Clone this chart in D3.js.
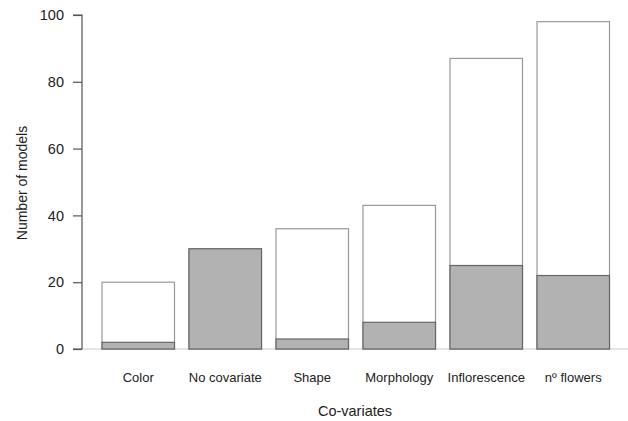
<!DOCTYPE html>
<html>
<head>
<meta charset="utf-8">
<script src="https://cdn.jsdelivr.net/npm/d3@7"></script>
<style>
  html, body { margin: 0; padding: 0; background: #fff; }
  svg { display: block; font-family: "Liberation Sans", Arial, sans-serif; }
</style>
</head>
<body>
<svg id="chart" width="628" height="421"></svg>
<script>
// Number of models per co-variate: total models and the subset shown in grey
const categories = ["Color", "No covariate", "Shape", "Morphology", "Inflorescence", "nº flowers"];
const totalModels = [20, 30, 36, 43, 87, 98];
const greyModels = [2, 30, 3, 8, 25, 22];
const yTicks = [0, 20, 40, 60, 80, 100];

const svg = d3.select("#chart");

const x = d3.scaleBand()
  .domain(categories)
  .range([94.75, 616.75])
  .paddingInner(1 / 6)
  .paddingOuter(1 / 12);

const y = d3.scaleLinear().domain([0, 100]).range([349, 15]);

const rows = categories.map((c, i) => ({ cat: c, total: totalModels[i], grey: greyModels[i] }));

// baseline
svg.append("line")
  .attr("x1", 82).attr("x2", 628)
  .attr("y1", y(0)).attr("y2", y(0))
  .attr("stroke", "#cccccc").attr("stroke-width", 1.2);

// total bars (white)
svg.append("g").selectAll("rect")
  .data(rows).join("rect")
  .attr("x", d => x(d.cat))
  .attr("width", x.bandwidth())
  .attr("y", d => y(d.total))
  .attr("height", d => y(0) - y(d.total))
  .attr("fill", "#ffffff")
  .attr("stroke", "#999999")
  .attr("stroke-width", 1.2);

// grey subset bars
svg.append("g").selectAll("rect")
  .data(rows).join("rect")
  .attr("x", d => x(d.cat))
  .attr("width", x.bandwidth())
  .attr("y", d => y(d.grey))
  .attr("height", d => y(0) - y(d.grey))
  .attr("fill", "#b2b2b2")
  .attr("stroke", "#666666")
  .attr("stroke-width", 1.2);

// y axis
const yAxis = d3.axisLeft(y).tickValues(yTicks).tickSize(9).tickPadding(9).tickFormat(d3.format("d"));
const gy = svg.append("g").attr("transform", "translate(82,0)").call(yAxis);
gy.select(".domain").attr("stroke", "#555555").attr("stroke-width", 1.2).attr("d", `M-9,${y(100)}H0V${y(0)}H-9`);
gy.selectAll(".tick line").attr("stroke", "#555555").attr("stroke-width", 1.2);
gy.selectAll(".tick text")
  .attr("fill", "#222222")
  .style("font-size", "14.5px")
  .style("font-family", "'Liberation Sans', Arial, sans-serif");

// category labels
svg.append("g").selectAll("text")
  .data(rows).join("text")
  .attr("x", d => x(d.cat) + x.bandwidth() / 2)
  .attr("y", 382)
  .attr("text-anchor", "middle")
  .attr("fill", "#222222")
  .style("font-size", "13px")
  .text(d => d.cat);

// axis titles
svg.append("text")
  .attr("x", 355).attr("y", 416)
  .attr("text-anchor", "middle")
  .attr("fill", "#222222")
  .style("font-size", "14.5px")
  .text("Co-variates");

svg.append("text")
  .attr("transform", "translate(27,183) rotate(-90)")
  .attr("text-anchor", "middle")
  .attr("fill", "#222222")
  .style("font-size", "14px")
  .text("Number of models");
</script>
</body>
</html>
